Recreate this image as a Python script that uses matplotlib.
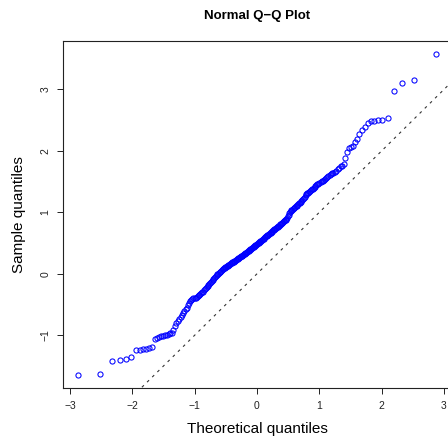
"""
Normal Q-Q plot in the look of R's qqnorm() + abline(0, 1, lty=2)
"""
from statistics import NormalDist

import matplotlib
matplotlib.use('Agg')
import matplotlib.pyplot as plt

plt.rcParams['font.family'] = ['Liberation Sans', 'DejaVu Sans']

# sorted sample values (n = 250)
sample_low = [-1.645, -1.635, -1.42, -1.40, -1.395, -1.36, -1.24, -1.24, -1.23, -1.22,
              -1.205, -1.19, -1.065, -1.04, -1.03, -1.015, -1.005, -0.998, -0.99, -0.98,
              -0.97, -0.96, -0.91, -0.85, -0.80, -0.765, -0.73, -0.70, -0.67, -0.635,
              -0.60, -0.58, -0.555, -0.51, -0.47, -0.45, -0.425, -0.41, -0.40, -0.39]
sample_mid = [-0.389, -0.376, -0.363, -0.350, -0.338, -0.325, -0.313, -0.301, -0.289, -0.271,
              -0.253, -0.235, -0.217, -0.200, -0.183, -0.166, -0.149, -0.132, -0.116, -0.099,
              -0.083, -0.067, -0.051, -0.035, -0.019, -0.007, 0.004, 0.015, 0.026, 0.037,
              0.048, 0.059, 0.070, 0.080, 0.089, 0.097, 0.105, 0.113, 0.121, 0.129,
              0.137, 0.145, 0.153, 0.160, 0.168, 0.176, 0.184, 0.191, 0.199, 0.206,
              0.214, 0.222, 0.229, 0.237, 0.244, 0.252, 0.259, 0.267, 0.274, 0.282,
              0.289, 0.296, 0.304, 0.311, 0.320, 0.328, 0.336, 0.345, 0.353, 0.361,
              0.370, 0.378, 0.386, 0.394, 0.402, 0.411, 0.419, 0.427, 0.435, 0.443,
              0.451, 0.459, 0.467, 0.476, 0.484, 0.492, 0.500, 0.508, 0.516, 0.525,
              0.533, 0.541, 0.549, 0.557, 0.565, 0.574, 0.583, 0.591, 0.600, 0.608,
              0.617, 0.626, 0.635, 0.643, 0.652, 0.661, 0.670, 0.678, 0.687, 0.696,
              0.705, 0.714, 0.722, 0.731, 0.740, 0.749, 0.758, 0.767, 0.776, 0.784,
              0.793, 0.803, 0.813, 0.823, 0.832, 0.842, 0.852, 0.862, 0.872, 0.882,
              0.892, 0.912, 0.936, 0.961, 0.985, 1.010, 1.021, 1.031, 1.042, 1.052,
              1.063, 1.074, 1.085, 1.096, 1.107, 1.120, 1.132, 1.145, 1.158, 1.171,
              1.184, 1.200, 1.219, 1.238, 1.257, 1.276, 1.296, 1.310, 1.322, 1.334,
              1.347, 1.359, 1.372, 1.385, 1.398, 1.411, 1.424, 1.438, 1.455, 1.468,
              1.480, 1.492, 1.505, 1.518, 1.531, 1.545, 1.559, 1.573, 1.588, 1.603,
              1.618, 1.633, 1.648, 1.663, 1.678]
sample_high = [1.71, 1.73, 1.75, 1.76, 1.78, 1.89, 1.99, 2.05, 2.07, 2.08,
               2.14, 2.19, 2.27, 2.34, 2.39, 2.45, 2.48, 2.49, 2.50, 2.51,
               2.53, 2.98, 3.10, 3.16, 3.58]
sample = sample_low + sample_mid + sample_high

x_ticks = [-3, -2, -1, 0, 1, 2, 3]
y_ticks = [-1, 0, 1, 2, 3]

title = 'Normal Q\u2212Q Plot'
x_label = 'Theoretical quantiles'
y_label = 'Sample quantiles'


def ppoints(n):
    a = 3 / 8 if n <= 10 else 0.5
    return [(i + 1 - a) / (n + 1 - 2 * a) for i in range(n)]


def r_limits(values):
    lo, hi = min(values), max(values)
    pad = 0.04 * (hi - lo)
    return lo - pad, hi + pad


theoretical = [NormalDist().inv_cdf(p) for p in ppoints(len(sample))]

fig = plt.figure(figsize=(4.48, 4.42), dpi=100, facecolor='white')
ax = fig.add_axes([0.1413, 0.1229, 0.8647, 0.7843])

ax.plot(theoretical, sample, linestyle='none', marker='o', markersize=3.7,
        markerfacecolor='none', markeredgecolor='#0000ff', markeredgewidth=0.75)

xlim = r_limits(theoretical)
ylim = r_limits(sample)
# reference line y = x (abline(0, 1)), drawn across the x range
ax.plot(xlim, xlim, color='#333333', linewidth=0.8, linestyle=(0, (2.5, 4)))

ax.set_xlim(*xlim)
ax.set_ylim(*ylim)
ax.set_xticks(x_ticks)
ax.set_yticks(y_ticks)
ax.tick_params(direction='out', length=4.3, width=0.7, colors='#222222', labelsize=7.5, pad=5)
ax.set_yticklabels([f'{v:d}'.replace('-', '\u2212') for v in y_ticks], rotation=90, va='center')
for sp in ax.spines.values():
    sp.set_linewidth(0.8)
    sp.set_color('#222222')

ax.set_title(title, fontsize=9.5, fontweight='bold', pad=16)
ax.set_xlabel(x_label, fontsize=11, labelpad=8)
ax.set_ylabel(y_label, fontsize=11, labelpad=10)

fig.savefig('out.png', dpi=100, facecolor='white')
